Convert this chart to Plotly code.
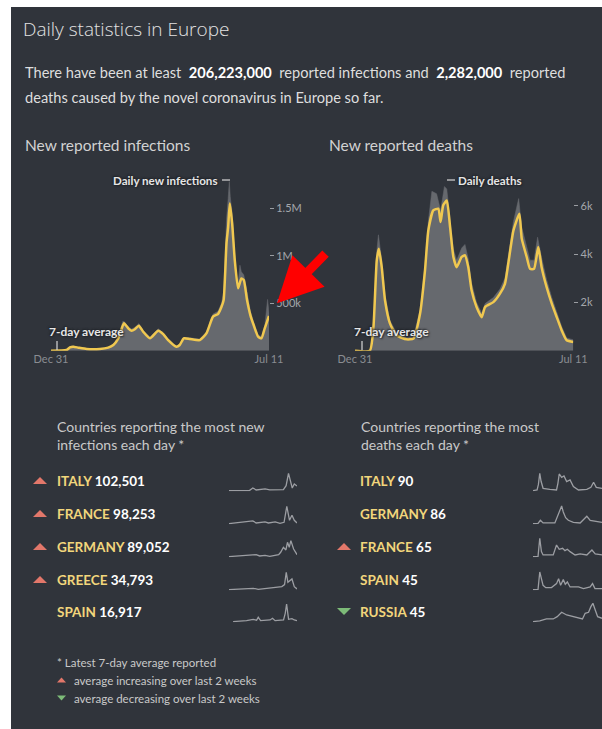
import plotly.graph_objects as go

W, H = 602, 729
def fx(x): return x / W
def fy(y): return 1 - y / H

BG = "#30343b"
GRAY = "#66696e"
YEL = "#f0c850"
FONT = "Lato"

# ---------------- data ----------------
inf_avg_dates = ["2019-12-31","2020-03-06","2020-03-20","2020-04-03","2020-04-25","2020-05-30","2020-07-25",
                 "2020-08-29","2020-09-20","2020-10-11","2020-11-04","2020-11-22","2020-12-06","2020-12-20",
                 "2021-01-06","2021-01-24","2021-02-22","2021-03-29","2021-04-19","2021-05-10","2021-06-14",
                 "2021-06-28","2021-07-15","2021-08-10","2021-09-21","2021-10-19","2021-11-16","2021-12-07",
                 "2021-12-22","2021-12-31","2022-01-12","2022-01-19","2022-01-26","2022-02-05","2022-02-16",
                 "2022-03-02","2022-03-16","2022-03-26","2022-04-09","2022-04-23","2022-05-07","2022-05-26",
                 "2022-06-09","2022-06-23","2022-07-11"]
inf_avg_vals = [0, 7e3, 35e3, 42e3, 32e3, 18e3, 18e3,
                32e3, 60e3, 130e3, 288e3, 235e3, 210e3, 225e3,
                263e3, 200e3, 130e3, 210e3, 175e3, 112e3, 42e3,
                60e3, 130e3, 123e3, 112e3, 182e3, 358e3, 386e3,
                463e3, 533e3, 1130e3, 1300e3, 1550e3, 1340e3, 955e3,
                656e3, 760e3, 745e3, 533e3, 375e3, 270e3, 147e3,
                130e3, 235e3, 365e3]

inf_daily_dates = ["2019-12-31","2020-03-01","2020-03-20","2020-04-03","2020-04-20","2020-05-30","2020-07-25",
                   "2020-08-29","2020-09-20","2020-10-11","2020-10-30","2020-11-06","2020-11-20","2020-12-06",
                   "2020-12-20","2021-01-06","2021-01-24","2021-02-22","2021-03-29","2021-04-19","2021-05-10",
                   "2021-06-14","2021-06-28","2021-07-15","2021-08-10","2021-09-21","2021-10-19","2021-11-16",
                   "2021-12-07","2021-12-22","2021-12-31","2022-01-08","2022-01-12","2022-01-19","2022-01-24",
                   "2022-01-28","2022-02-05","2022-02-12","2022-02-20","2022-03-02","2022-03-10","2022-03-16",
                   "2022-03-26","2022-04-05","2022-04-15","2022-04-23","2022-05-07","2022-05-26","2022-06-09",
                   "2022-06-23","2022-07-05","2022-07-11"]
inf_daily_vals = [0, 5e3, 42e3, 50e3, 38e3, 21e3, 22e3,
                  36e3, 68e3, 145e3, 310e3, 305e3, 255e3, 228e3,
                  245e3, 285e3, 215e3, 145e3, 230e3, 190e3, 125e3,
                  48e3, 68e3, 140e3, 135e3, 122e3, 198e3, 385e3,
                  415e3, 500e3, 620e3, 1180e3, 1380e3, 1600e3, 1780e3,
                  1620e3, 1450e3, 1150e3, 850e3, 700e3, 900e3, 830e3,
                  800e3, 680e3, 540e3, 420e3, 300e3, 165e3, 150e3,
                  260e3, 540e3, 400e3]

death_avg_dates = ["2019-12-31","2020-03-03","2020-03-18","2020-04-01","2020-04-10","2020-04-22","2020-05-06",
                   "2020-05-27","2020-06-24","2020-08-05","2020-09-03","2020-10-01","2020-10-22","2020-11-05",
                   "2020-11-26","2020-12-17","2020-12-27","2021-01-07","2021-01-22","2021-02-05","2021-02-19",
                   "2021-03-05","2021-03-26","2021-04-09","2021-04-23","2021-05-07","2021-05-28","2021-06-19",
                   "2021-07-03","2021-08-07","2021-09-04","2021-09-25","2021-10-09","2021-10-31","2021-11-25",
                   "2021-12-05","2021-12-26","2022-01-09","2022-01-26","2022-02-13","2022-02-27","2022-03-20",
                   "2022-04-11","2022-05-02","2022-05-23","2022-06-13","2022-07-11"]
death_avg_vals = [0, 0, 980, 3740, 4220, 3460, 2080,
                  1120, 635, 470, 500, 1530, 3330, 4980,
                  5810, 5880, 5330, 6020, 6220, 5120, 3880,
                  3460, 3880, 3950, 3460, 2500, 1810, 1390,
                  1810, 2010, 2360, 2770, 3600, 4980, 5670,
                  4640, 3880, 3390, 3390, 4290, 3460, 2640,
                  1950, 1390, 840, 430, 360]

death_daily_dates = ["2019-12-31","2020-03-03","2020-03-18","2020-04-01","2020-04-08","2020-04-22","2020-05-06",
                     "2020-05-27","2020-06-24","2020-08-05","2020-09-03","2020-10-01","2020-10-22","2020-11-05",
                     "2020-11-20","2020-12-10","2020-12-27","2021-01-12","2021-01-22","2021-02-05","2021-02-19",
                     "2021-03-05","2021-03-26","2021-04-09","2021-04-23","2021-05-07","2021-05-28","2021-06-19",
                     "2021-07-03","2021-08-07","2021-09-04","2021-09-25","2021-10-09","2021-10-31","2021-11-22",
                     "2021-12-05","2021-12-26","2022-01-09","2022-01-26","2022-02-10","2022-02-27","2022-03-20",
                     "2022-04-11","2022-05-02","2022-05-23","2022-06-13","2022-07-11"]
death_daily_vals = [0, 0, 1150, 4100, 4800, 3750, 2300,
                    1250, 720, 540, 570, 1700, 3550, 5350,
                    6600, 6500, 5800, 6800, 6700, 5500, 4200,
                    3750, 4250, 4400, 3800, 2800, 2000, 1550,
                    1950, 2200, 2550, 3000, 3950, 5350, 6300,
                    5100, 4300, 3750, 3750, 4700, 3850, 2950,
                    2200, 1600, 1000, 530, 450]

inf_tickvals = [500000, 1000000, 1500000]
inf_ticktext = ["500k", "1M", "1.5M"]
death_tickvals = [2000, 4000, 6000]
death_ticktext = ["2k", "4k", "6k"]
date_tickvals = ["2019-12-31", "2022-07-11"]
date_ticktext = ["Dec 31", "Jul 11"]

inf_countries = ["ITALY", "FRANCE", "GERMANY", "GREECE", "SPAIN"]
inf_values = ["102,501", "98,253", "89,052", "34,793", "16,917"]
inf_trend = ["up", "up", "up", "up", ""]
death_countries = ["ITALY", "GERMANY", "FRANCE", "SPAIN", "RUSSIA"]
death_values = ["90", "86", "65", "45", "45"]
death_trend = ["", "", "up", "", "down"]

# sparklines: t = percent of period, v = relative level
inf_spark_t = [
    [0, 30, 35, 40, 53, 60, 80, 84, 87.5, 91, 93, 96, 100],
    [0, 35, 40, 53, 58, 68, 75, 81, 85, 89, 92.6, 96, 100],
    [0, 40, 45, 53, 60, 73, 76, 80, 83.7, 86, 88.6, 91, 95, 100],
    [0, 35.6, 43, 65, 77.7, 81.7, 84.2, 86.6, 90, 92.6, 96, 100],
    [6, 25.7, 35.6, 40.6, 43, 46.5, 60.4, 64, 67.8, 80.2, 82.7, 84.7, 87.6, 92.6, 96, 100],
]
inf_spark_v = [
    [2, 2, 10, 4, 7, 4, 5, 17, 54, 22, 10, 22, 16],
    [2, 10, 4, 7, 4, 7, 3, 6, 54, 12, 27, 12, 4],
    [2, 8, 4, 6, 3, 8, 15, 30, 22, 45, 30, 50, 25, 8],
    [2, 6, 3, 7, 11, 17, 54, 24, 29, 34, 11, 4],
    [2, 5, 9, 6, 15, 5, 7, 12, 5, 7, 27, 55, 9, 11, 7, 5],
]
death_spark_t = [
    [0, 5.9, 7.8, 9.8, 11.7, 14.6, 24.4, 34.1, 36.1, 38, 41.5, 44.9, 48.8, 53.7, 58.5, 65.9, 78, 83.9, 87.8, 91.7, 100],
    [0, 7.3, 10.7, 14.6, 31.7, 36.6, 41.5, 43.9, 47.3, 51.2, 58.5, 68.3, 75.6, 78, 82.9, 91.7, 100],
    [0, 7.3, 9.8, 12.2, 14.6, 29.3, 34.1, 38, 42.9, 46.3, 49.8, 53.7, 61, 68.3, 78, 85.4, 90.2, 100],
    [0, 7.3, 9.8, 12.2, 14.6, 18.5, 26.8, 34.1, 37.1, 40, 43.9, 46.8, 49.8, 53.7, 65.9, 73.2, 82.9, 86.3, 89.8, 100],
    [0, 9.8, 19.5, 29.3, 35.1, 41.5, 48.8, 58.5, 68.3, 71.7, 75.6, 80.5, 83.9, 86.8, 90.2, 93.7, 100],
]
death_spark_v = [
    [2, 4, 20, 54, 30, 9, 6, 4, 24, 52, 42, 46, 29, 34, 14, 4, 6, 12, 27, 12, 9],
    [2, 3, 12, 4, 4, 27, 55, 37, 20, 12, 6, 4, 17, 24, 12, 10, 6],
    [2, 3, 57, 17, 7, 7, 37, 24, 27, 20, 24, 17, 7, 10, 7, 22, 10, 7],
    [2, 3, 55, 30, 15, 8, 8, 20, 35, 15, 32, 18, 25, 10, 10, 5, 10, 20, 5, 5],
    [2, 4, 10, 10, 17, 30, 22, 17, 10, 10, 27, 30, 47, 57, 37, 17, 12],
]

rows_y = [481, 514, 547, 580, 612]

# ---------------- figure ----------------
fig = go.Figure()

def add_area(xs, ys, xa, ya):
    fig.add_trace(go.Scatter(x=xs, y=ys, mode="lines", fill="tozeroy", fillcolor=GRAY,
                             line=dict(color=GRAY, width=0.5),
                             xaxis=xa, yaxis=ya, hoverinfo="skip"))

def add_line(xs, ys, xa, ya):
    fig.add_trace(go.Scatter(x=xs, y=ys, mode="lines",
                             line=dict(color=YEL, width=2.5, shape="spline", smoothing=0.5),
                             xaxis=xa, yaxis=ya, hoverinfo="skip"))

add_area(inf_daily_dates, inf_daily_vals, "x", "y")
add_line(inf_avg_dates, inf_avg_vals, "x", "y")
add_area(death_daily_dates, death_daily_vals, "x2", "y2")
add_line(death_avg_dates, death_avg_vals, "x2", "y2")

layout = dict(
    template="none",
    width=W, height=H, margin=dict(l=0, r=0, t=0, b=0, pad=0, autoexpand=False),
    paper_bgcolor="white", plot_bgcolor="rgba(0,0,0,0)", showlegend=False,
    font=dict(family=FONT, color="#d8d8d8"),
)

main_y_dom = [fy(350.7), fy(175)]
def date_axis(dom, anchor):
    return dict(type="date", domain=dom, range=["2019-12-31", "2022-07-11"], anchor=anchor,
                tickmode="array", tickvals=date_tickvals, ticktext=date_ticktext,
                showgrid=False, zeroline=False, showline=False, ticks="", automargin=False,
                tickfont=dict(size=11, color="#8a8d92", family=FONT), fixedrange=True)

def val_axis(rng, tv, tt, anchor):
    return dict(domain=main_y_dom, range=rng, anchor=anchor, side="right", automargin=False,
                tickmode="array", tickvals=tv, ticktext=tt, ticks="outside", ticklen=4,
                tickcolor="#9a9da2", tickwidth=1, showgrid=False, zeroline=False, showline=False,
                tickfont=dict(size=11, color="#a4a7ac", family=FONT), fixedrange=True)

layout["xaxis"] = date_axis([fx(51), fx(269)], "y")
layout["yaxis"] = val_axis([0, 1.849e6], inf_tickvals, inf_ticktext, "x")
layout["xaxis2"] = date_axis([fx(355), fx(573.3)], "y2")
layout["yaxis2"] = val_axis([0, 7275], death_tickvals, death_ticktext, "x2")

# sparklines
k = 3
for col, (ts, vs) in enumerate([(inf_spark_t, inf_spark_v), (death_spark_t, death_spark_v)]):
    x0, x1 = (229, 297) if col == 0 else (533, 602)
    for i, (t, v) in enumerate(zip(ts, vs)):
        ry = rows_y[i]
        fig.add_trace(go.Scatter(x=t, y=v, mode="lines", line=dict(color="#9c9ea3", width=1.3),
                                 xaxis=f"x{k}", yaxis=f"y{k}", hoverinfo="skip"))
        layout[f"xaxis{k}"] = dict(domain=[fx(x0), min(fx(x1), 1)], range=[0, 100], visible=False,
                                   anchor=f"y{k}", fixedrange=True, automargin=False)
        layout[f"yaxis{k}"] = dict(domain=[fy(ry + 10.3), fy(ry - 9.7)], range=[0, 60], visible=False,
                                   anchor=f"x{k}", fixedrange=True, automargin=False)
        k += 1

# ---------------- shapes ----------------
shapes = [dict(type="rect", xref="paper", yref="paper", x0=fx(11), x1=1.02, y0=-0.02, y1=fy(7),
               fillcolor=BG, line=dict(width=0), layer="below")]

def seg(x0, y0, x1, y1, color="#d8d8d8", w=1.2):
    shapes.append(dict(type="line", xref="paper", yref="paper", x0=fx(x0), y0=fy(y0), x1=fx(x1), y1=fy(y1),
                       line=dict(color=color, width=w)))

seg(222, 180, 230, 180)
seg(447, 180, 455, 180)
seg(57, 341, 57, 350)
seg(362, 341, 362, 350)

UP = "#e2776a"
DOWN = "#7dbb78"
def tri(cx, cy, w, h, up):
    if up:
        pts = [(cx - w / 2, cy + h / 2), (cx + w / 2, cy + h / 2), (cx, cy - h / 2)]
    else:
        pts = [(cx - w / 2, cy - h / 2), (cx + w / 2, cy - h / 2), (cx, cy + h / 2)]
    path = "M " + " L ".join(f"{fx(a):.5f},{fy(b):.5f}" for a, b in pts) + " Z"
    shapes.append(dict(type="path", xref="paper", yref="paper", path=path,
                       fillcolor=UP if up else DOWN, line=dict(width=0)))

for i, tr in enumerate(inf_trend):
    if tr:
        tri(40, rows_y[i] - 0.5, 14, 7, tr == "up")
for i, tr in enumerate(death_trend):
    if tr:
        tri(344, rows_y[i] - 0.5, 14, 7, tr == "up")
tri(61.5, 680, 9, 5, True)
tri(61.5, 698, 9, 5, False)

layout["shapes"] = shapes

# ---------------- annotations ----------------
ann = []
def txt(x, y, s, size, color="#d8d8d8", anchor="left", weight=None, shadow=None, family=FONT):
    f = dict(size=size, color=color, family=family)
    if weight:
        f["weight"] = weight
    if shadow:
        f["shadow"] = shadow
    ann.append(dict(x=fx(x), y=fy(y), xref="paper", yref="paper", text=s, showarrow=False,
                    xanchor=anchor, yanchor="middle", borderpad=0, font=f))

NB = "\u00a0"
txt(22, 29, "Daily statistics in Europe", 19, "#e2e2e2", weight=300, family="Open Sans")
txt(24, 73, f"There have been at least{NB} <b style='color:#ffffff'>206,223,000</b>{NB} reported infections and{NB} "
            f"<b style='color:#ffffff'>2,282,000</b>{NB} reported", 14.6, "#dedede")
txt(24, 98, "deaths caused by the novel coronavirus in Europe so far.", 14.6, "#dedede")
txt(24, 145, "New reported infections", 15.5, "#d2d2d2")
txt(328, 145, "New reported deaths", 15.5, "#d2d2d2")

SH = "1px 1px 2px #1e2126, -1px -1px 2px #1e2126"
txt(218, 180, "<b>Daily new infections</b>", 11.6, "#e6e6e6", anchor="right", shadow=SH)
txt(457, 180, "<b>Daily deaths</b>", 11.6, "#e6e6e6", shadow=SH)
txt(48, 331, "<b>7-day average</b>", 12, "#e6e6e6", shadow=SH)
txt(353, 331, "<b>7-day average</b>", 12, "#e6e6e6", shadow=SH)

txt(56, 426, "Countries reporting the most new", 14, "#c9c9c9")
txt(56, 445, "infections each day *", 14, "#c9c9c9")
txt(360, 426, "Countries reporting the most", 14, "#c9c9c9")
txt(360, 445, "deaths each day *", 14, "#c9c9c9")

NAMEC = "#f2d67c"
for i, (c, v) in enumerate(zip(inf_countries, inf_values)):
    txt(55.7, rows_y[i], f"<b><span style='color:{NAMEC}'>{c}</span> {v}</b>", 13.5, "#ffffff")
for i, (c, v) in enumerate(zip(death_countries, death_values)):
    txt(359, rows_y[i], f"<b><span style='color:{NAMEC}'>{c}</span> {v}</b>", 13.5, "#ffffff")

txt(56, 662, "* Latest 7-day average reported", 11.5, "#c9c9c9")
txt(73, 680, "average increasing over last 2 weeks", 11.5, "#c9c9c9")
txt(73, 698, "average decreasing over last 2 weeks", 11.5, "#c9c9c9")

# red arrow pointing at the 500k tick
ann.append(dict(x=fx(277), y=500000, xref="paper", yref="y", text="", showarrow=True,
                arrowhead=2, arrowsize=1.0, arrowwidth=9, arrowcolor="#ff0000",
                ax=50, ay=-51, standoff=0))

layout["annotations"] = ann
fig.update_layout(**layout)
fig.write_html("out.html", config={"displayModeBar": False, "staticPlot": True},
               post_script="document.body.style.margin='0';document.body.style.overflow='hidden';")
